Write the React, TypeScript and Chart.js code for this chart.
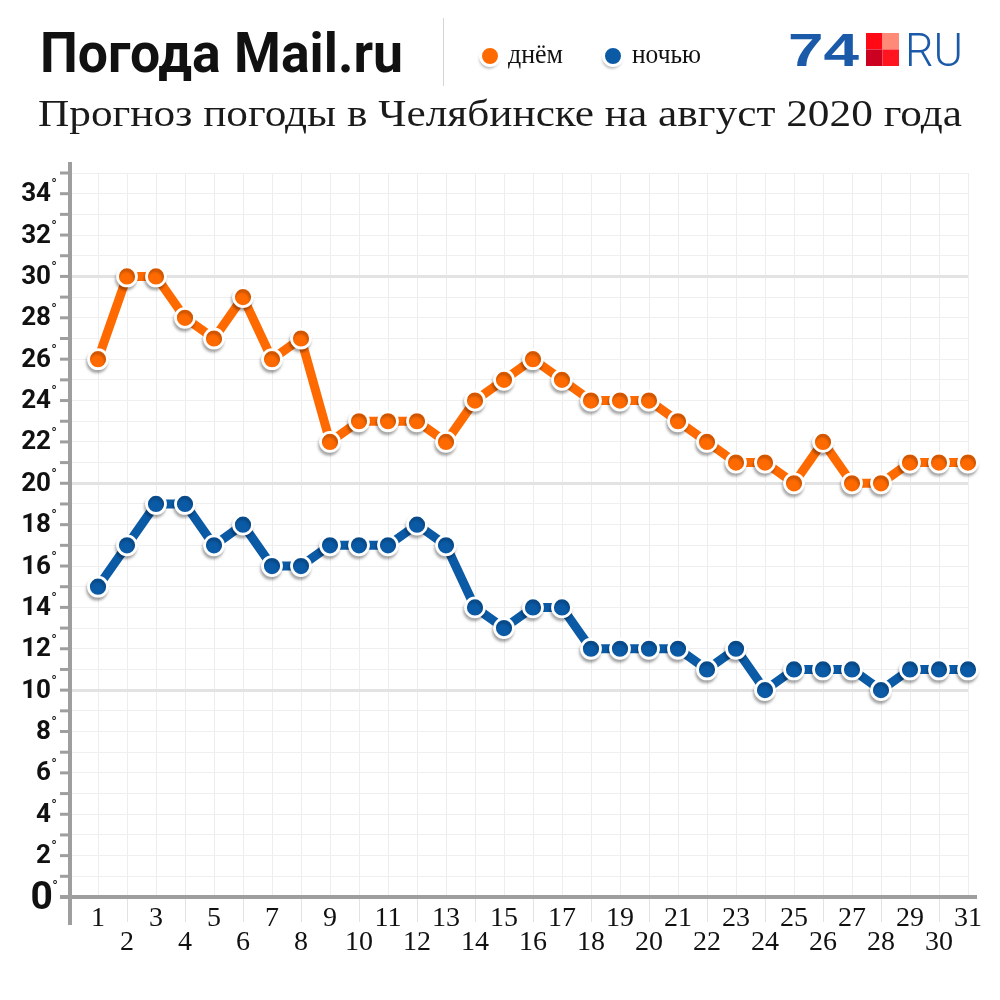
import React, { useEffect, useRef } from "react";
import { Chart, registerables } from "chart.js";

Chart.register(...registerables);

const days = [1, 2, 3, 4, 5, 6, 7, 8, 9, 10, 11, 12, 13, 14, 15, 16, 17, 18, 19, 20, 21, 22, 23, 24, 25, 26, 27, 28, 29, 30, 31];
const dayTemps = [26, 30, 30, 28, 27, 29, 26, 27, 22, 23, 23, 23, 22, 24, 25, 26, 25, 24, 24, 24, 23, 22, 21, 21, 20, 22, 20, 20, 21, 21, 21];
const nightTemps = [15, 17, 19, 19, 17, 18, 16, 16, 17, 17, 17, 18, 17, 14, 13, 14, 14, 12, 12, 12, 12, 11, 12, 10, 11, 11, 11, 10, 11, 11, 11];
const yTickLabels = [0, 2, 4, 6, 8, 10, 12, 14, 16, 18, 20, 22, 24, 26, 28, 30, 32, 34];
const titleText = "Погода Mail.ru";
const subtitleText = "Прогноз погоды в Челябинске на август 2020 года";
const legendLabels = ["днём", "ночью"];
const logoDigits = "74";
const logoLetters = "RU";

const ORANGE = "#ff6a00";
const BLUE = "#0b5aa6";
const AXIS = "#9e9e9e";

function fitText(ctx: CanvasRenderingContext2D, text: string, x: number, y: number, width: number, font: string, color: string) {
  ctx.save();
  ctx.font = font;
  ctx.fillStyle = color;
  ctx.textAlign = "left";
  ctx.textBaseline = "alphabetic";
  const w = ctx.measureText(text).width;
  ctx.translate(x, y);
  ctx.scale(width / w, 1);
  ctx.fillText(text, 0, 0);
  ctx.restore();
}

function legendDot(ctx: CanvasRenderingContext2D, x: number, y: number, color: string) {
  ctx.save();
  ctx.shadowColor = "rgba(0,0,0,0.3)";
  ctx.shadowBlur = 3;
  ctx.shadowOffsetY = 3;
  ctx.shadowOffsetX = -1;
  ctx.beginPath();
  ctx.arc(x, y, 9.5, 0, Math.PI * 2);
  ctx.fillStyle = color;
  ctx.fill();
  ctx.shadowColor = "transparent";
  ctx.lineWidth = 3;
  ctx.strokeStyle = "#fff";
  ctx.stroke();
  ctx.restore();
}

const shadowPlugin = {
  id: "pointShadow",
  beforeDatasetDraw(chart: any, args: any) {
    const ds = chart.data.datasets[args.index];
    if (ds.showLine === false) {
      const ctx = chart.ctx;
      ctx.save();
      ctx.shadowColor = "rgba(0,0,0,0.28)";
      ctx.shadowBlur = 3;
      ctx.shadowOffsetY = 3;
      ctx.shadowOffsetX = -1;
    }
  },
  afterDatasetDraw(chart: any, args: any) {
    const ds = chart.data.datasets[args.index];
    if (ds.showLine === false) chart.ctx.restore();
  },
};

const decorPlugin = {
  id: "decor",
  afterDraw(chart: any) {
    const ctx: CanvasRenderingContext2D = chart.ctx;
    const xs = chart.scales.x;
    const ys = chart.scales.y;
    const x0 = xs.getPixelForValue(0) + 1;
    const y0 = ys.getPixelForValue(0);

    // under-axis separators for even days
    ctx.save();
    ctx.strokeStyle = "#e2e2e2";
    ctx.lineWidth = 1;
    days.forEach((d) => {
      if (d % 2 === 0) {
        const x = Math.round(xs.getPixelForValue(d)) + 0.5;
        ctx.beginPath();
        ctx.moveTo(x, y0 + 2);
        ctx.lineTo(x, y0 + 25);
        ctx.stroke();
      }
    });
    ctx.restore();

    // axes
    ctx.save();
    ctx.strokeStyle = AXIS;
    ctx.lineWidth = 4;
    ctx.beginPath();
    ctx.moveTo(x0, 162);
    ctx.lineTo(x0, y0 + 28);
    ctx.stroke();
    ctx.beginPath();
    ctx.moveTo(x0 - 10, y0);
    ctx.lineTo(xs.getPixelForValue(31) + 9, y0);
    ctx.stroke();
    ctx.lineWidth = 3;
    for (let v = 1; v <= 35; v++) {
      const y = ys.getPixelForValue(v);
      ctx.beginPath();
      ctx.moveTo(x0 - 10, y);
      ctx.lineTo(x0, y);
      ctx.stroke();
    }
    ctx.restore();

    // y labels
    ctx.save();
    ctx.fillStyle = "#111";
    ctx.textBaseline = "middle";
    yTickLabels.forEach((v) => {
      const y = ys.getPixelForValue(v);
      if (v === 0) {
        ctx.font = "bold 39px Roboto";
        ctx.textAlign = "right";
        ctx.fillText(String(v), 53, y + 2);
        ctx.font = "15px Roboto";
        ctx.textAlign = "center";
        ctx.fillText("°", 55, y - 10);
      } else {
        ctx.font = "bold 26px Roboto";
        ctx.textAlign = "right";
        ctx.fillText(String(v), 51, y + 1);
        ctx.font = "15px Roboto";
        ctx.textAlign = "center";
        ctx.fillText("°", 54, y - 8);
      }
    });
    ctx.restore();

    // x labels
    ctx.save();
    ctx.fillStyle = "#111";
    ctx.textAlign = "center";
    ctx.textBaseline = "alphabetic";
    ctx.font = "28px 'Liberation Serif'";
    days.forEach((d) => {
      const x = xs.getPixelForValue(d);
      const y = d % 2 === 1 ? 926 : 950;
      ctx.fillText(String(d), x, y);
    });
    ctx.restore();

    // header
    fitText(ctx, titleText, 40, 72, 363, "bold 56px Roboto", "#111");
    fitText(ctx, subtitleText, 38, 126, 924, "38px 'Liberation Serif'", "#1a1a1a");

    ctx.save();
    ctx.strokeStyle = "#d4d4d4";
    ctx.lineWidth = 1;
    ctx.beginPath();
    ctx.moveTo(443.5, 18);
    ctx.lineTo(443.5, 86);
    ctx.stroke();
    ctx.restore();

    legendDot(ctx, 490, 56, ORANGE);
    legendDot(ctx, 613, 56, BLUE);
    fitText(ctx, legendLabels[0], 508, 63, 55, "28px 'Liberation Serif'", "#111");
    fitText(ctx, legendLabels[1], 632, 63, 69, "28px 'Liberation Serif'", "#111");

    // logo
    fitText(ctx, logoDigits, 788, 66, 71, "900 47px 'Liberation Sans'", "#1a5aa8");
    const sq = 16.5;
    ctx.save();
    ctx.fillStyle = "#ff0a14";
    ctx.fillRect(866, 33, sq, sq);
    ctx.fillStyle = "#ff8a78";
    ctx.fillRect(866 + sq, 33, sq, sq);
    ctx.fillStyle = "#cc0020";
    ctx.fillRect(866, 33 + sq, sq, sq);
    ctx.fillStyle = "#ff1420";
    ctx.fillRect(866 + sq, 33 + sq, sq, sq);
    ctx.restore();
    fitText(ctx, logoLetters, 905, 66, 58, "300 46px Roboto", "#1a5aa8");
  },
};

export default function App() {
  const ref = useRef<HTMLCanvasElement | null>(null);

  useEffect(() => {
    if (!ref.current) return;
    const dayPoints = days.map((d, i) => ({ x: d, y: dayTemps[i] }));
    const nightPoints = days.map((d, i) => ({ x: d, y: nightTemps[i] }));

    const chart = new Chart(ref.current, {
      type: "line",
      data: {
        datasets: [
          { label: "днём", data: dayPoints, borderColor: ORANGE, borderWidth: 9, pointRadius: 0, fill: false, tension: 0, order: 2, clip: false } as any,
          { label: "ночью", data: nightPoints, borderColor: BLUE, borderWidth: 9, pointRadius: 0, fill: false, tension: 0, order: 2, clip: false } as any,
          { label: "днём точки", data: dayPoints, showLine: false, pointRadius: 9.5, pointBackgroundColor: ORANGE, pointBorderColor: "#fff", pointBorderWidth: 2.8, order: 1, clip: false } as any,
          { label: "ночью точки", data: nightPoints, showLine: false, pointRadius: 9.5, pointBackgroundColor: BLUE, pointBorderColor: "#fff", pointBorderWidth: 2.8, order: 1, clip: false } as any,
        ],
      },
      options: {
        animation: false,
        responsive: false,
        layout: { padding: { left: 69, right: 32, top: 173, bottom: 103 } },
        plugins: { legend: { display: false }, tooltip: { enabled: false } },
        scales: {
          x: {
            type: "linear",
            min: 0,
            max: 31,
            ticks: { display: false, stepSize: 1, maxTicksLimit: 100 },
            grid: { color: "#ededed", lineWidth: 1, drawTicks: false },
            border: { display: false },
            afterFit: (s: any) => { s.height = 0; },
          },
          y: {
            type: "linear",
            min: 0,
            max: 35,
            ticks: { display: false, stepSize: 1, maxTicksLimit: 100 },
            grid: {
              color: (c: any) => (c.tick && c.tick.value % 10 === 0 ? "#e3e3e3" : "#efefef"),
              lineWidth: (c: any) => (c.tick && c.tick.value % 10 === 0 ? 3 : 1),
              drawTicks: false,
            },
            border: { display: false },
            afterFit: (s: any) => { s.width = 0; },
          },
        },
      } as any,
      plugins: [shadowPlugin, decorPlugin],
    });
    return () => chart.destroy();
  }, []);

  return (
    <div style={{ position: "absolute", left: 0, top: 0, width: 1000, height: 1000, background: "#fff" }}>
      <canvas ref={ref} width={1000} height={1000} style={{ display: "block" }} />
    </div>
  );
}
